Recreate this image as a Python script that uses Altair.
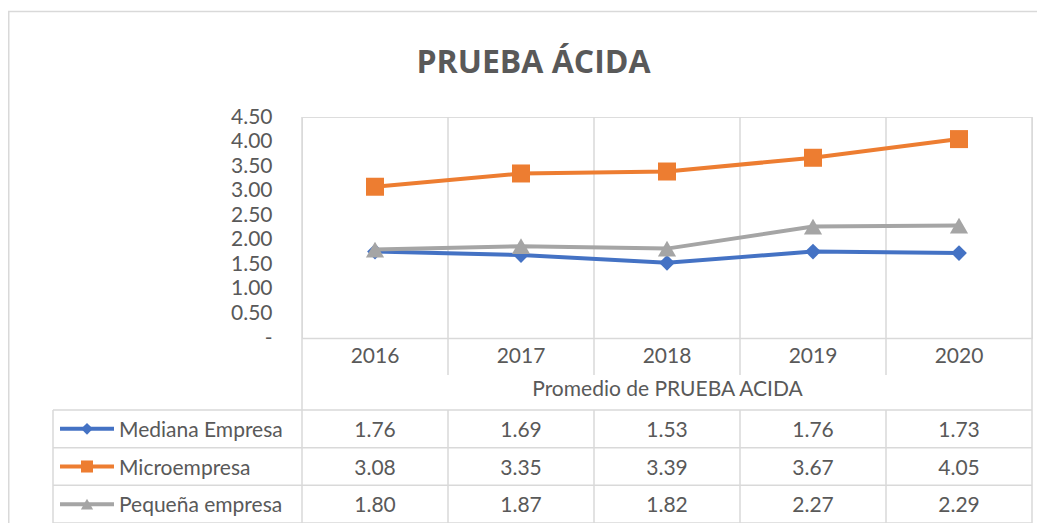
import altair as alt
import pandas as pd

# ---------------- data ----------------
years = ["2016", "2017", "2018", "2019", "2020"]
series = ["Mediana Empresa", "Microempresa", "Pequeña empresa"]
mediana = [1.76, 1.69, 1.53, 1.76, 1.73]
micro = [3.08, 3.35, 3.39, 3.67, 4.05]
pequena = [1.80, 1.87, 1.82, 2.27, 2.29]
colors = ["#4472C4", "#ED7D31", "#A5A5A5"]
shapes = ["diamond", "square", "triangle-up"]
y_ticks = [0, 0.5, 1.0, 1.5, 2.0, 2.5, 3.0, 3.5, 4.0, 4.5]
title_text = "PRUEBA ÁCIDA"
table_caption = "Promedio de PRUEBA ACIDA"

rows = []
for s, vals in zip(series, [mediana, micro, pequena]):
    for yr, v in zip(years, vals):
        rows.append({"year": yr, "serie": s, "value": v})
df = pd.DataFrame(rows)
years_df = pd.DataFrame({"year": years})
series_df = pd.DataFrame({"serie": series})
one = pd.DataFrame({"t": [title_text]})
cap_df = pd.DataFrame({"t": [table_caption]})

# ---------------- style ----------------
W, H = 730, 221
FONT = "Lato"
TXT = "#595959"
GRID = "#D9D9D9"
FS = 21

xscale = alt.Scale(domain=years, type="band", paddingInner=0, paddingOuter=0)
xaxis = alt.Axis(labelAngle=0, labelFont=FONT, labelFontSize=FS, labelColor=TXT,
                 labelBaseline="middle", labelPadding=18.5, ticks=False, tickSize=0,
                 grid=False, domain=True, domainColor=GRID, domainWidth=1.5, title=None)


def X(bp):
    return alt.X("year:O", scale=xscale, axis=xaxis, bandPosition=bp)


yscale = alt.Scale(domain=[0, 4.5], nice=False, zero=True)
yaxis = alt.Axis(values=y_ticks,
                 labelExpr="datum.value == 0 ? '-\u00a0\u00a0' : format(datum.value, '.2f')",
                 labelFont=FONT, labelFontSize=FS, labelColor=TXT, labelPadding=30,
                 ticks=False, tickSize=0, grid=False, domain=False, title=None)
Y = alt.Y("value:Q", scale=yscale, axis=yaxis)

rowscale = alt.Scale(domain=series, type="band", range=[293, 406], paddingInner=0, paddingOuter=0)


def YR(bp):
    return alt.Y("serie:N", scale=rowscale, axis=None, bandPosition=bp)


color_scale = alt.Scale(domain=series, range=colors)
shape_scale = alt.Scale(domain=series, range=shapes)
leg_size_scale = alt.Scale(domain=series, range=[140, 150, 210])

# ---------------- plot layers ----------------
plot_layers = []
sizes = [250, 324, 330]
for i, s in enumerate(series):
    base = alt.Chart(df).transform_filter(alt.datum.serie == s)
    plot_layers.append(base.mark_line(strokeWidth=4, color=colors[i]).encode(x=X(0.5), y=Y))
    plot_layers.append(base.mark_point(filled=True, opacity=1, shape=shapes[i], size=sizes[i],
                                       color=colors[i]).encode(x=X(0.5), y=Y))
inner = alt.layer(*plot_layers)

# ---------------- frame, grid and table ----------------
border = alt.Chart(one).mark_rect(fillOpacity=0, stroke=GRID, strokeWidth=1.5).encode(
    x=alt.value(-293.25), x2=alt.value(760), y=alt.value(-105.5), y2=alt.value(440))

title = alt.Chart(one).mark_text(font="Open Sans", fontWeight="bold", fontSize=32, color=TXT,
                                 baseline="alphabetic", align="center").encode(
    text="t:N", x=alt.value(231.5), y=alt.value(-44.3))

vgrid_top = alt.Chart(years_df).mark_rule(color=GRID, strokeWidth=1.5).encode(
    x=X(0), y=alt.value(0), y2=alt.value(258))
vgrid_bot = alt.Chart(years_df).mark_rule(color=GRID, strokeWidth=1.5).encode(
    x=X(0), y=alt.value(293), y2=alt.value(406))
right_edge = alt.Chart(one).mark_rule(color=GRID, strokeWidth=1.5).encode(
    x=alt.value(730), y=alt.value(0), y2=alt.value(406))
left_mid = alt.Chart(one).mark_rule(color=GRID, strokeWidth=1.5).encode(
    x=alt.value(0), y=alt.value(258), y2=alt.value(293))
legend_col = alt.Chart(one).mark_rule(color=GRID, strokeWidth=1.5).encode(
    x=alt.value(-249), y=alt.value(293), y2=alt.value(406))
hlines = alt.Chart(series_df).mark_rule(color=GRID, strokeWidth=1.5).encode(
    x=alt.value(-249), x2=alt.value(730), y=YR(0))
hbottom = alt.Chart(one).mark_rule(color=GRID, strokeWidth=1.5).encode(
    x=alt.value(-249), x2=alt.value(730), y=alt.value(406))

caption = alt.Chart(cap_df).mark_text(font=FONT, fontSize=FS, color=TXT, baseline="middle").encode(
    text="t:N", x=alt.value(365.5), y=alt.value(273))

cells = alt.Chart(df).mark_text(font=FONT, fontSize=FS, color=TXT, baseline="middle", dy=2).encode(
    x=X(0.5), y=YR(0.5), text=alt.Text("value:Q", format=".2f"))

leg_text = alt.Chart(series_df).mark_text(font=FONT, fontSize=FS, color=TXT, baseline="middle",
                                          align="left", dy=2).encode(
    x=alt.value(-183), y=YR(0.5), text="serie:N")
leg_line = alt.Chart(series_df).mark_rule(strokeWidth=4).encode(
    x=alt.value(-242), x2=alt.value(-188), y=YR(0.5),
    color=alt.Color("serie:N", scale=color_scale, legend=None))
leg_pt = alt.Chart(series_df).mark_point(filled=True, opacity=1).encode(
    x=alt.value(-215), y=YR(0.5),
    color=alt.Color("serie:N", scale=color_scale, legend=None),
    shape=alt.Shape("serie:N", scale=shape_scale, legend=None),
    size=alt.Size("serie:N", scale=leg_size_scale, legend=None))

chart = alt.layer(
    border, title, vgrid_top, vgrid_bot, right_edge, left_mid, legend_col, hlines, hbottom,
    inner, caption, cells, leg_line, leg_pt, leg_text
).resolve_scale(y="independent").properties(
    width=W, height=H,
    padding={"left": 294, "top": 109, "right": 5, "bottom": 185},
    autosize=alt.AutoSizeParams(type="none"),
).configure_view(stroke=None).configure(background="white")

chart.save("out.html", embed_options={"renderer": "svg", "actions": False})
